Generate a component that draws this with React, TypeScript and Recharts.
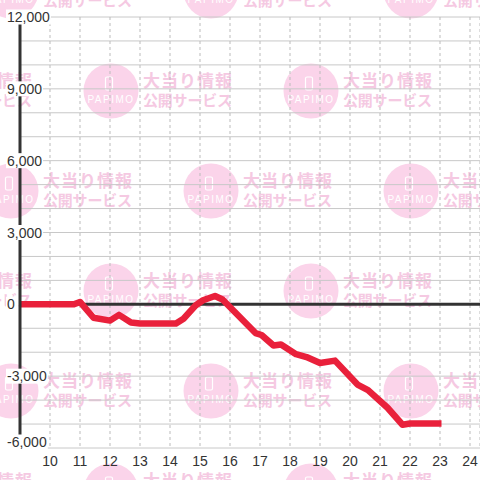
import React from 'react'
import {
  CartesianGrid,
  Line,
  LineChart,
  ReferenceLine,
  XAxis,
  YAxis,
} from 'recharts'

document.body.style.margin = '0'

// hour of day -> balance
const hours = [
  9, 10.8, 11.0, 11.45, 12.0, 12.3, 12.7, 13.0, 14.2, 14.45, 14.85, 15.1, 15.5,
  15.75, 16.85, 17.05, 17.45, 17.7, 18.2, 18.55, 19.0, 19.5, 20.25, 20.6, 21.25,
  21.75, 22.0, 23.05,
]
const balance = [
  0, 0, 100, -560, -680, -440, -760, -800, -800, -600, -50, 170, 350, 200,
  -1200, -1280, -1720, -1680, -2080, -2200, -2450, -2350, -3350, -3580, -4320,
  -5030, -4980, -4980,
]

const hourTicks = [10, 11, 12, 13, 14, 15, 16, 17, 18, 19, 20, 21, 22, 23, 24]
const balanceTicks = [-6000, -3000, 0, 3000, 6000, 9000, 12000]
const gridValues = [
  -6000, -5000, -4000, -3000, -2000, -1000, 0, 1000, 2000, 3000, 4000, 5000,
  6000, 7000, 8000, 9000, 10000, 11000, 12000,
]

const data = hours.map((hour, i) => ({ hour, balance: balance[i] }))

const FONT = '"Liberation Sans", Arial, sans-serif'
const CJK = '"Noto Sans CJK JP", sans-serif'

function Watermark() {
  const marks = []
  for (let row = 0; row < 6; row++) {
    const cy = -9 + row * 100
    for (let col = -1; col < 3; col++) {
      const cx = 11 + col * 200 + (row % 2 ? 100 : 0)
      marks.push(
        <g key={`${row}-${col}`}>
          <circle cx={cx} cy={cy} r={27.5} fill='#fbd4ea' />
          <rect
            x={cx - 5.5}
            y={cy - 14}
            width={7}
            height={13}
            rx={1.5}
            fill='none'
            stroke='#fff'
            strokeWidth={1.2}
          />
          <text
            x={cx}
            y={cy + 12}
            textAnchor='middle'
            fill='#fff'
            fontSize={10}
            fontFamily={FONT}
            letterSpacing={1.5}
          >
            PAPIMO
          </text>
          <text
            x={cx + 32}
            y={cy - 4}
            fill='#f5c9e2'
            fontSize={17}
            fontWeight='bold'
            fontFamily={CJK}
            textLength={89}
          >
            大当り情報
          </text>
          <text
            x={cx + 32}
            y={cy + 15}
            fill='#f5c9e2'
            fontSize={15}
            fontWeight='bold'
            fontFamily={CJK}
            textLength={89}
          >
            公開サービス
          </text>
        </g>
      )
    }
  }
  return (
    <svg
      width={480}
      height={480}
      style={{ position: 'absolute', left: 0, top: 0 }}
    >
      {marks}
    </svg>
  )
}

function labelWidth(s: string) {
  let w = 0
  for (const ch of s) w += ch === ',' ? 3.9 : ch === '-' ? 4.7 : 7.8
  return w
}

function BalanceTick(props: any) {
  const { payload } = props
  // bottom label sits a little above its grid line
  const y = payload.value === balanceTicks[0] ? props.y - 6 : props.y
  const label = Number(payload.value).toLocaleString('en-US')
  return (
    <g>
      <rect x={6} y={y - 7.5} width={labelWidth(label) + 2} height={15} fill='#fff' />
      <text
        x={7}
        y={y}
        dy={5}
        textAnchor='start'
        fill='#333'
        fontSize={14}
        fontFamily={FONT}
      >
        {label}
      </text>
    </g>
  )
}

export default function App() {
  return (
    <div style={{ position: 'relative', width: 480, height: 480, overflow: 'hidden' }}>
      <Watermark />
      <div style={{ position: 'absolute', left: 0, top: 0 }}>
        <LineChart
          width={480}
          height={480}
          data={data}
          margin={{ top: 17, right: 0, bottom: 2, left: 0 }}
        >
          <CartesianGrid
            vertical={false}
            stroke='#c8c8c8'
            horizontalValues={gridValues}
          />
          <CartesianGrid
            horizontal={false}
            stroke='#bbbbbb'
            strokeDasharray='3 3'
          />
          <XAxis
            dataKey='hour'
            type='number'
            domain={[9, 24.333]}
            ticks={hourTicks}
            interval={0}
            allowDataOverflow
            tickLine={false}
            axisLine={false}
            tick={{ fill: '#333', fontSize: 14, fontFamily: FONT }}
          />
          <YAxis
            width={20}
            domain={[-6000, 12000]}
            ticks={balanceTicks}
            interval={0}
            tickLine={false}
            axisLine={{ stroke: '#333', strokeWidth: 3 }}
            tick={<BalanceTick />}
          />
          <ReferenceLine y={0} stroke='#333' strokeWidth={3} />
          <Line
            dataKey='balance'
            type='linear'
            stroke='#e9203b'
            strokeWidth={6.5}
            strokeLinejoin='round'
            dot={false}
            isAnimationActive={false}
          />
        </LineChart>
      </div>
    </div>
  )
}
